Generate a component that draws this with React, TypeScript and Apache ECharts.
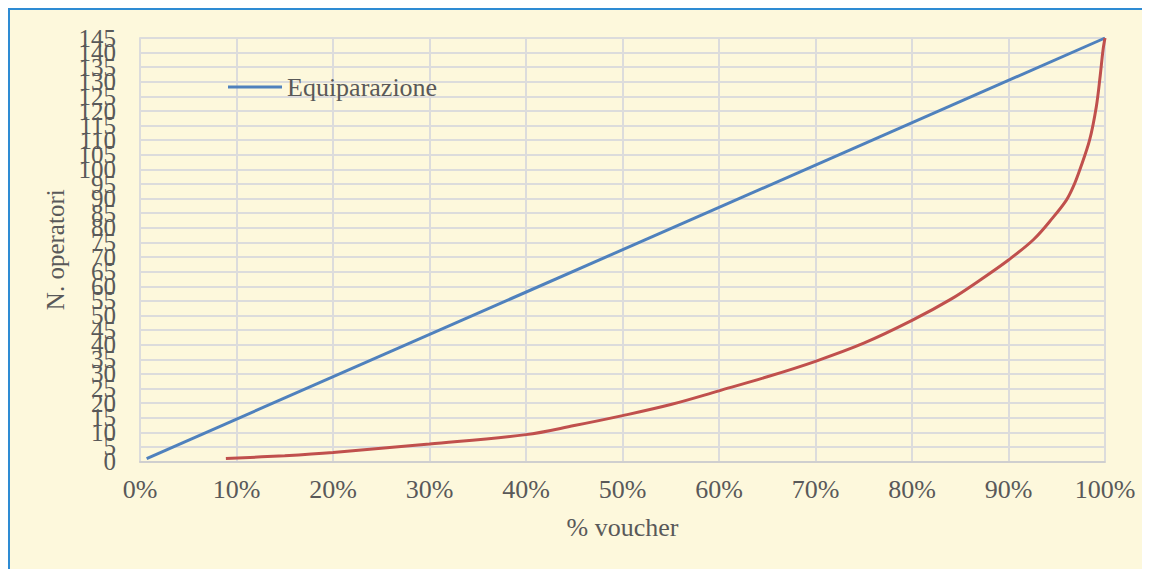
import React, { useEffect, useRef } from "react";
import * as echarts from "echarts";

const xTickValues = [0, 10, 20, 30, 40, 50, 60, 70, 80, 90, 100];
const yTickLabels = ["0", "5", "10", "15", "20", "25", "30", "35", "40", "45", "50", "55", "60", "65", "70", "75", "80", "85", "90", "95", "100", "105", "110", "115", "120", "125", "130", "135", "140", "145"];
const equiparazioneX = [0.69, 100];
const equiparazioneY = [1, 145];
const distribuzioneX = [8.9, 15, 20, 30, 40, 45, 50, 55, 60, 65, 70, 75, 80, 84, 87, 90, 92.6, 94.6, 96, 96.7, 97.4, 98.4, 99.1, 99.5, 99.8, 100];
const distribuzioneY = [1, 2, 3.1, 6, 9.2, 12.3, 15.7, 19.5, 24.2, 29, 34.3, 40.5, 48.3, 55.5, 62, 69, 76, 83.5, 89.5, 94, 100, 110, 121.5, 132, 141, 145];

const FONT = "'Liberation Serif', 'DejaVu Serif', serif";

export default function App() {
  const ref = useRef<HTMLDivElement>(null);
  useEffect(() => {
    if (!ref.current) return;
    const chart = echarts.init(ref.current, undefined, { renderer: "svg" });
    chart.setOption({
      animation: false,
      backgroundColor: "transparent",
      grid: { left: 130, right: 45, top: 28, bottom: 107.5, containLabel: false },
      legend: {
        data: ["Equiparazione"],
        left: 218,
        top: 64,
        padding: 0,
        icon: "rect",
        itemWidth: 54,
        itemHeight: 3,
        itemGap: 10,
        textStyle: { fontFamily: FONT, fontSize: 26, color: "#595959", padding: [0, 0, 0, 0] },
      },
      xAxis: {
        type: "value",
        min: 0,
        max: 100,
        interval: 10,
        name: "% voucher",
        nameLocation: "middle",
        nameGap: 53,
        nameTextStyle: { fontFamily: FONT, fontSize: 26, color: "#595959" },
        axisLine: { show: true, lineStyle: { color: "#CFCFCF", width: 2 } },
        axisTick: { show: false },
        axisLabel: {
          fontFamily: FONT,
          fontSize: 26,
          color: "#595959",
          margin: 15,
          showMinLabel: true,
          showMaxLabel: true,
          formatter: (v: number) => (xTickValues.includes(v) ? v + "%" : ""),
        },
        splitLine: { show: true, lineStyle: { color: "#DCDCDC", width: 2 } },
      },
      yAxis: [
        {
          type: "category",
          data: yTickLabels,
          boundaryGap: false,
          name: "N. operatori",
          nameLocation: "middle",
          nameGap: 72,
          nameRotate: 90,
          nameTextStyle: { fontFamily: FONT, fontSize: 25, color: "#595959" },
          axisLine: { show: true, lineStyle: { color: "#DCDCDC", width: 2 } },
          axisTick: { show: false },
          axisLabel: {
            interval: 0,
            fontFamily: FONT,
            fontSize: 25,
            color: "#595959",
            margin: 24,
          },
          splitLine: { show: true, interval: 0, lineStyle: { color: "#DCDCDC", width: 2 } },
        },
        {
          type: "value",
          min: 0,
          max: 145,
          show: false,
          splitLine: { show: false },
        },
      ],
      series: [
        {
          name: "Equiparazione",
          type: "line",
          yAxisIndex: 1,
          data: equiparazioneX.map((x, i) => [x, equiparazioneY[i]]),
          symbol: "none",
          lineStyle: { color: "#4F81BD", width: 3 },
          itemStyle: { color: "#4F81BD" },
        },
        {
          name: "Distribuzione",
          type: "line",
          yAxisIndex: 1,
          data: distribuzioneX.map((x, i) => [x, distribuzioneY[i]]),
          symbol: "none",
          smooth: 0.35,
          lineStyle: { color: "#C0504D", width: 3 },
          itemStyle: { color: "#C0504D" },
        },
      ],
    });
    return () => chart.dispose();
  }, []);
  return (
    <div
      style={{
        width: 1140,
        height: 559,
        borderLeft: "2px solid #2E8BD3",
        borderTop: "2px solid #2E8BD3",
        background: "#FDF8DC",
      }}
    >
      <div ref={ref} style={{ width: 1140, height: 559 }} />
    </div>
  );
}
